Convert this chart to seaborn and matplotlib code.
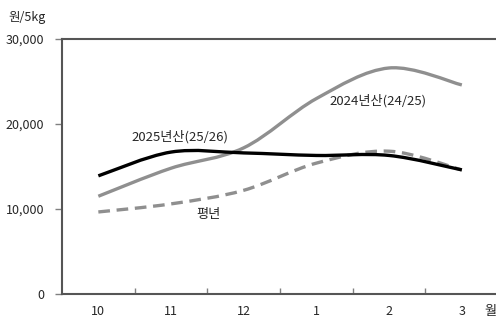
import numpy as np
import pandas as pd
import matplotlib
matplotlib.use('Agg')
import matplotlib.pyplot as plt
from matplotlib.path import Path
from matplotlib.patches import PathPatch
import seaborn as sns

# values (원/5kg)
months = ['10', '11', '12', '1', '2', '3']
crop_2025 = [13900, 16700, 16600, 16300, 16300, 14600]
crop_2024 = [11500, 14800, 17200, 23000, 26600, 24600]
normal_year = [9650, 10600, 12200, 15400, 16800, 14600]
y_ticks = [0, 10000, 20000, 30000]

sns.set_style('white')
plt.rcParams['font.family'] = ['Noto Sans CJK KR', 'DejaVu Sans']

df = pd.DataFrame({'month': months, 'x': np.arange(len(months)),
                   '2025': crop_2025, '2024': crop_2024, 'normal': normal_year})

fig = plt.figure(figsize=(4.96, 3.23), dpi=100)
ax = fig.add_axes([0.125, 0.09, 0.875, 0.789])


def smooth_path(xs, ys):
    # Excel-like smoothed line: cubic bezier through the data points
    pts = np.column_stack([xs, ys]).astype(float)
    ext = np.vstack([pts[0], pts, pts[-1]])
    verts = [pts[0]]
    codes = [Path.MOVETO]
    for i in range(len(pts) - 1):
        p0, p1, p2, p3 = ext[i], ext[i + 1], ext[i + 2], ext[i + 3]
        c1 = p1 + (p2 - p0) / 6
        c2 = p2 - (p3 - p1) / 6
        verts += [c1, c2, p2]
        codes += [Path.CURVE4] * 3
    return Path(verts, codes)


series = [('normal', '#8f8f8f', (0, (3.5, 2))),
          ('2024', '#8f8f8f', '-'),
          ('2025', '#000000', '-')]
for col, color, ls in series:
    patch = PathPatch(smooth_path(df['x'], df[col]), facecolor='none',
                      edgecolor=color, linewidth=2.4, linestyle=ls,
                      capstyle='butt')
    ax.add_patch(patch)

ax.set_xlim(-0.5, 5.47)
ax.set_ylim(0, 30000)
ax.set_yticks(y_ticks)
ax.set_yticklabels([f'{v:,}' for v in y_ticks], fontsize=9)
ax.set_xticks(df['x'])
ax.set_xticklabels(months, fontsize=9)
ax.set_xticks(np.arange(0.5, 5, 1), minor=True)
ax.tick_params(axis='x', which='major', length=0, pad=8)
ax.tick_params(axis='x', which='minor', direction='in', length=4,
               color='#808080', width=1)
ax.tick_params(axis='y', direction='out', length=5, color='#808080',
               width=1, pad=8)
ax.yaxis.set_ticks_position('left')
ax.xaxis.set_ticks_position('bottom')

for side in ['left', 'bottom', 'top']:
    ax.spines[side].set_color('#555555')
    ax.spines[side].set_linewidth(1.5)
ax.spines['right'].set_visible(False)

ax.text(1.12, 18450, '2025년산(25/26)', fontsize=9.5, ha='center', va='center')
ax.text(3.85, 22700, '2024년산(24/25)', fontsize=9.5, ha='center', va='center')
ax.text(1.51, 9400, '평년', fontsize=9.5, ha='center', va='center')
fig.text(8 / 496, 1 - 17 / 323, '원/5kg', fontsize=9, va='center')
fig.text(490 / 496, 1 - 311 / 323, '월', fontsize=9.5, va='center',
         ha='center')

fig.savefig('out.png', dpi=100)
